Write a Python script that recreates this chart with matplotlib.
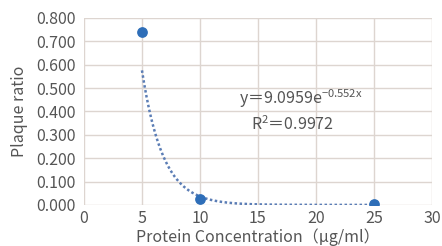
import numpy as np
import matplotlib
matplotlib.use("Agg")
import matplotlib.pyplot as plt

plt.rcParams['font.family'] = ['Noto Sans CJK JP', 'DejaVu Sans']
plt.rcParams['mathtext.fontset'] = 'custom'
plt.rcParams['mathtext.rm'] = 'Noto Sans CJK JP'
plt.rcParams['mathtext.default'] = 'regular'

# data
conc = [5, 10, 25]
ratio = [0.742, 0.025, 0.003]
fit_a = 9.0959
fit_b = -0.552
r2 = 0.9972

xticks = [0, 5, 10, 15, 20, 25, 30]
yticks = [0.0, 0.1, 0.2, 0.3, 0.4, 0.5, 0.6, 0.7, 0.8]

text_col = '#555555'
grid_col = '#ddd5d0'
fs = 11.5

fig = plt.figure(figsize=(4.42, 2.46), dpi=100)
ax = fig.add_axes([0.190, 0.167, 0.787, 0.760])

xs = np.linspace(min(conc), max(conc), 200)
ax.plot(xs, fit_a * np.exp(fit_b * xs), linestyle=(0, (1, 1)), color='#5b7db5',
        linewidth=1.8, zorder=2)
ax.scatter(conc, ratio, s=45, color='#2e6eb8', zorder=3)

ax.set_xlim(0, 30)
ax.set_ylim(0, 0.8)
ax.set_xticks(xticks)
ax.set_yticks(yticks)
ax.set_yticklabels(['%.3f' % v for v in yticks])
ax.grid(True, color=grid_col, linewidth=1)
ax.set_axisbelow(True)
for s in ax.spines.values():
    s.set_visible(False)
ax.tick_params(length=0, labelsize=fs, colors=text_col)
ax.tick_params(axis='y', pad=6)
ax.tick_params(axis='x', pad=4)

ax.set_xlabel('Protein Concentration\uff08\u03bcg/ml\uff09', fontsize=fs,
              color=text_col, labelpad=0.5)
ax.set_ylabel('Plaque ratio', fontsize=fs, color=text_col, labelpad=6)

ax.text(18.7, 0.455, 'y\uff1d%.4fe$^{%.3fx}$' % (fit_a, fit_b), fontsize=fs,
        color=text_col, ha='center', va='center')
ax.text(18.0, 0.345, 'R$^{2}$\uff1d%.4f' % r2, fontsize=fs,
        color=text_col, ha='center', va='center')

fig.savefig('out.png', dpi=100)
